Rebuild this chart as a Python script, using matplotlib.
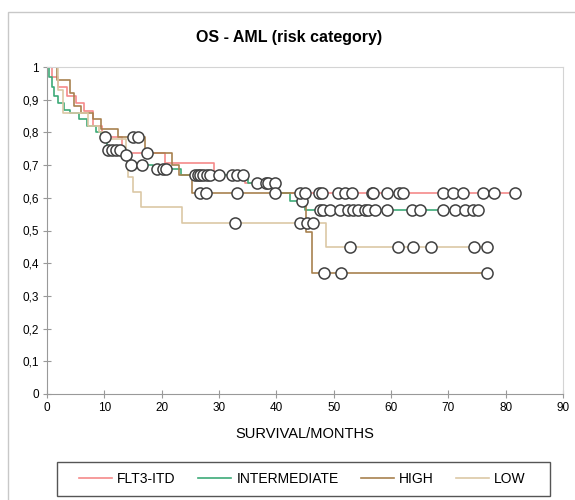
import numpy as np
import matplotlib.pyplot as plt
import matplotlib.patches as patches

plt.rcParams['font.family'] = ['Liberation Sans', 'DejaVu Sans']

# step curves: time (months) where the survival drops, and survival after the drop
flt3_t = [0, 0.8, 2, 3.5, 5, 6.5, 8, 9.6, 13, 20.6, 29.1, 34.5, 40, 82]
flt3_s = [1, 0.97, 0.94, 0.91, 0.89, 0.865, 0.82, 0.786, 0.737, 0.706, 0.67, 0.645, 0.615, 0.615]
flt3_cens = [10.1, 47.4, 48, 50.8, 52, 53.2, 56.7, 56.9, 59.3, 61.4, 62.1, 69.1, 70.8, 72.6, 76.1, 78, 81.6]

inter_t = [0, 0.3, 0.8, 1.2, 2, 3, 4, 5.5, 7, 8.5, 9.5, 10.5, 13.5, 14.3, 18.5, 23.3, 35, 40, 42.4, 45, 75.5]
inter_s = [1, 0.97, 0.94, 0.91, 0.89, 0.87, 0.86, 0.84, 0.82, 0.80, 0.78, 0.746, 0.73, 0.70, 0.688, 0.67, 0.645, 0.615, 0.59, 0.563, 0.563]
inter_cens = [10.6, 11.3, 12, 12.7, 13.8, 14.6, 16.6, 19.2, 20.2, 20.8, 25.8, 26.3, 26.7, 27.2, 27.9, 28.4,
              30, 32.3, 33.1, 34.2, 36.6, 38.2, 38.6, 39.8, 44.5, 47.6, 48.2, 49.4, 51.1, 52.5, 53.4, 54.2,
              55.5, 56, 57.2, 59.3, 63.7, 65.1, 69.1, 71.2, 72.9, 74.3, 75.2]

high_t = [0, 1.8, 4, 4.7, 6, 8, 9.5, 12.4, 17.1, 21.8, 23, 25.3, 45.2, 46.3, 76.7]
high_s = [1, 0.96, 0.92, 0.88, 0.86, 0.84, 0.81, 0.786, 0.737, 0.70, 0.67, 0.615, 0.495, 0.37, 0.37]
high_cens = [15, 15.9, 17.4, 26.7, 27.7, 33.2, 39.8, 44.1, 45, 48.3, 51.3, 76.7]

low_t = [0, 2, 2.8, 7.2, 9, 10.5, 13.8, 14.2, 15, 16.4, 23.6, 48.6, 77]
low_s = [1, 0.93, 0.86, 0.82, 0.80, 0.78, 0.716, 0.664, 0.618, 0.572, 0.523, 0.45, 0.45]
low_cens = [32.8, 44.1, 45.3, 46.4, 52.9, 61.2, 63.8, 67.0, 74.5, 76.7]

names = ['FLT3-ITD', 'INTERMEDIATE', 'HIGH', 'LOW']
colors = ['#f58a8a', '#3daa78', '#a8814f', '#dcc8a6']
curves = [(flt3_t, flt3_s, flt3_cens), (inter_t, inter_s, inter_cens),
          (high_t, high_s, high_cens), (low_t, low_s, low_cens)]

fig = plt.figure(figsize=(5.75, 5), dpi=100)
ax = fig.add_axes([47 / 575, 106 / 500, 516 / 575, 327 / 500])

for (t, s, c), name, col in zip(curves, names, colors):
    ax.step(t, s, where='post', color=col, lw=1.2, label=name, zorder=2)
for (t, s, c), col in zip(curves, colors):
    t = np.array(t)
    s = np.array(s)
    idx = np.searchsorted(t, c, side='right') - 1
    ax.plot(c, s[idx], 'o', ms=8, mfc='white', mec='#404040', mew=1.1, ls='none', zorder=3)

ax.set_xlim(0, 90)
ax.set_ylim(0, 1)
ax.set_xticks(np.arange(0, 91, 10))
ax.set_yticks(np.arange(0, 1.01, 0.1))
ax.set_yticklabels(['0'] + [('%.1f' % v).replace('.', ',') for v in np.arange(0.1, 0.95, 0.1)] + ['1'])
ax.tick_params(direction='inout', length=6, width=0.8, color='#999999', labelsize=8.5, pad=3)
for sp in ['left', 'bottom']:
    ax.spines[sp].set_color('#999999')
for sp in ['top', 'right']:
    ax.spines[sp].set_color('#d4d4d4')

ax.set_xlabel('SURVIVAL/MONTHS', fontsize=10.5, labelpad=9)
fig.text(0.503, 0.925, 'OS - AML (risk category)', ha='center', va='center', fontsize=11.5, fontweight='bold')

# legend without its own frame; the box is drawn wider, as in the original
leg = fig.legend(loc='center', bbox_to_anchor=(0.526, 0.042), ncol=4, frameon=False,
                 fontsize=10, handlelength=2.4, columnspacing=1.6, handletextpad=0.35,
                 borderpad=0.5, borderaxespad=0)
fig.patches.append(patches.Rectangle((57 / 575, 4 / 500), 493 / 575, 34 / 500, transform=fig.transFigure,
                                     fill=False, edgecolor='#555555', lw=1))

fig.patches.append(patches.Rectangle((8 / 575, -0.1), 1.2, (488 / 500) + 0.1, transform=fig.transFigure,
                                     fill=False, edgecolor='#c8c8c8', lw=1))

fig.savefig('out.png', dpi=100)
